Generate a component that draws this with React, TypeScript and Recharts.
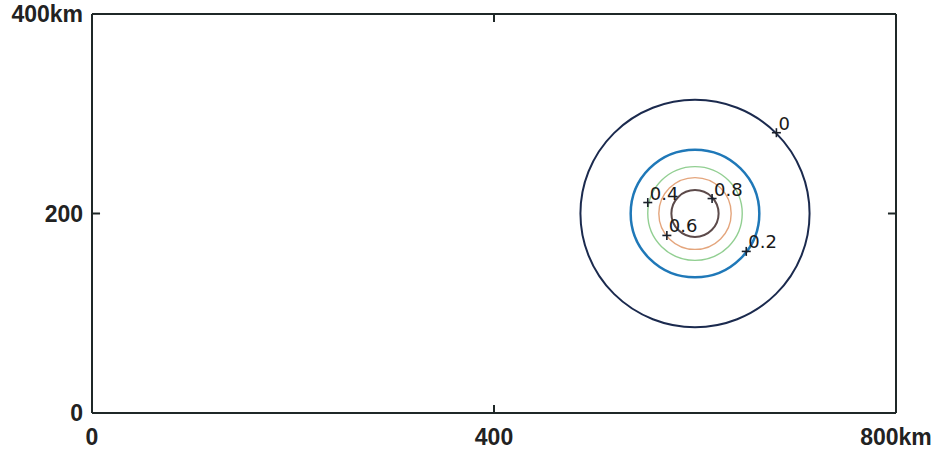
import { ScatterChart, Scatter, XAxis, YAxis, ReferenceArea, ReferenceLine } from 'recharts';

// contour levels around the source at (600 km, 200 km)
const levels = [0, 0.2, 0.4, 0.6, 0.8];
const radiiKm = [114, 64, 47, 36, 23.5];
const centerKm = { x: 600, y: 200 };

// where each contour carries its level label
const labelXKm = [681, 651, 553, 572, 617];
const labelYKm = [281, 162, 211, 178, 215];

const xTicks = [0, 400, 800];
const yTicks = [0, 200, 400];
const xTickLabels = ['0', '400', '800km'];
const yTickLabels = ['0', '200', '400km'];

const contourColors = ['#1b2a4e', '#1f78b8', '#92cf92', '#e4a57c', '#5c4a4a'];
const contourWidths = [2, 2.5, 1.4, 1.4, 2];
const axisColor = '#1f2828';
const tickKm = 8;

const labelPoints = levels.map((level, i) => ({
  x: labelXKm[i],
  y: labelYKm[i],
  level,
}));

const fontProps = { fontFamily: 'Liberation Sans', fontWeight: 700, fontSize: 23, fill: '#222' };

const XTick = (props: any) => {
  const { x, y, payload } = props;
  return (
    <text x={x} y={y + 32} textAnchor="middle" {...fontProps}>
      {xTickLabels[xTicks.indexOf(payload.value)]}
    </text>
  );
};

const YTick = (props: any) => {
  const { x, y, payload } = props;
  return (
    <text x={x - 9} y={y + 8} textAnchor="end" {...fontProps}>
      {yTickLabels[yTicks.indexOf(payload.value)]}
    </text>
  );
};

const Circle = (props: any, color: string, width: number) => {
  const { x, y, width: w, height: h } = props;
  return (
    <ellipse
      cx={x + w / 2}
      cy={y + h / 2}
      rx={Math.abs(w) / 2}
      ry={Math.abs(h) / 2}
      fill="none"
      stroke={color}
      strokeWidth={width}
    />
  );
};

const PlusMarker = (props: any) => {
  const { cx, cy, payload } = props;
  const arm = 4.5;
  return (
    <g>
      <line x1={cx - arm} y1={cy} x2={cx + arm} y2={cy} stroke="#1a1f2a" strokeWidth={1.6} />
      <line x1={cx} y1={cy - arm} x2={cx} y2={cy + arm} stroke="#1a1f2a" strokeWidth={1.6} />
      <text x={cx + 2} y={cy - 3} fontFamily="DejaVu Sans" fontSize={18} fill="#1a1a1a">
        {String(payload.level)}
      </text>
    </g>
  );
};

// inward tick marks on all four sides of the frame
const frameTicks = [
  [{ x: 400, y: 0 }, { x: 400, y: tickKm }],
  [{ x: 400, y: 400 }, { x: 400, y: 400 - tickKm }],
  [{ x: 0, y: 200 }, { x: tickKm, y: 200 }],
  [{ x: 800, y: 200 }, { x: 800 - tickKm, y: 200 }],
];

export default function App() {
  return (
    <div style={{ position: 'absolute', left: 0, top: 0, width: 933, height: 453, background: '#fff' }}>
      <ScatterChart width={933} height={453} margin={{ top: 14, right: 37, bottom: 0, left: 0 }}>
        <XAxis
          type="number"
          dataKey="x"
          domain={[0, 800]}
          ticks={xTicks}
          allowDataOverflow
          height={40}
          tickSize={0}
          tickMargin={0}
          tick={XTick}
          tickLine={false}
          axisLine={{ stroke: axisColor, strokeWidth: 2 }}
        />
        <YAxis
          type="number"
          dataKey="y"
          domain={[0, 400]}
          ticks={yTicks}
          allowDataOverflow
          width={92}
          tickSize={0}
          tickMargin={0}
          tick={YTick}
          tickLine={false}
          axisLine={{ stroke: axisColor, strokeWidth: 2 }}
        />
        <ReferenceLine y={400} stroke={axisColor} strokeWidth={2} ifOverflow="visible" />
        <ReferenceLine x={800} stroke={axisColor} strokeWidth={2} ifOverflow="visible" />
        {frameTicks.map((seg, i) => (
          <ReferenceLine key={i} segment={seg} stroke={axisColor} strokeWidth={2} ifOverflow="visible" />
        ))}
        {radiiKm.map((r, i) => (
          <ReferenceArea
            key={levels[i]}
            x1={centerKm.x - r}
            x2={centerKm.x + r}
            y1={centerKm.y - r}
            y2={centerKm.y + r}
            ifOverflow="visible"
            shape={(p: any) => Circle(p, contourColors[i], contourWidths[i])}
          />
        ))}
        <Scatter data={labelPoints} shape={PlusMarker} isAnimationActive={false} />
      </ScatterChart>
    </div>
  );
}
